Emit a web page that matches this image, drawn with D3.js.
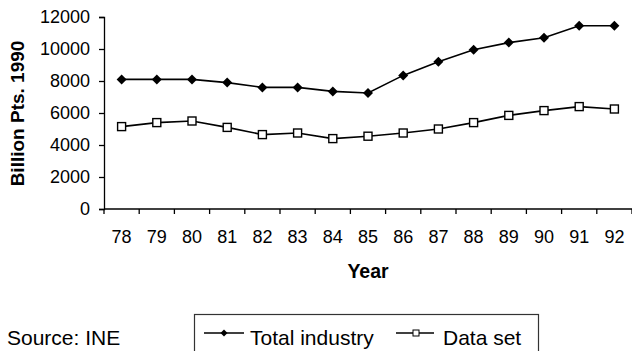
<!DOCTYPE html>
<html>
<head>
<meta charset="utf-8">
<script src="https://cdn.jsdelivr.net/npm/d3@7"></script>
<style>
  html, body { margin: 0; padding: 0; background: #fff; }
  svg { display: block; }
  text { font-family: "Liberation Sans", Arial, sans-serif; fill: #000; }
</style>
</head>
<body>
<svg id="chart" width="632" height="351"></svg>
<script>
const years = ["78","79","80","81","82","83","84","85","86","87","88","89","90","91","92"];
const totalIndustry = [8100, 8100, 8100, 7900, 7600, 7600, 7350, 7250, 8350, 9200, 9950, 10400, 10700, 11450, 11450];
const dataSet = [5150, 5400, 5500, 5100, 4650, 4750, 4400, 4550, 4750, 5000, 5400, 5850, 6150, 6400, 6250];
const yTicks = [0, 2000, 4000, 6000, 8000, 10000, 12000];
const seriesNames = ["Total industry", "Data set"];

const svg = d3.select("#chart");
const plotLeft = 104, plotRight = 632, plotTop = 17, plotBottom = 209;

const x = d3.scaleBand().domain(years).range([plotLeft, plotRight]);
const y = d3.scaleLinear().domain([0, 12000]).range([plotBottom, plotTop]);

// Y axis
const yAxis = svg.append("g").attr("transform", `translate(${plotLeft},0)`)
  .call(d3.axisLeft(y).tickValues(yTicks).tickSize(5).tickPadding(9).tickFormat(d3.format("d")));
yAxis.select(".domain").attr("stroke", "#000").attr("stroke-width", 1.3);
yAxis.selectAll(".tick line").attr("stroke", "#000").attr("stroke-width", 1.3);
yAxis.selectAll("text").attr("font-size", 18).attr("font-family", "Liberation Sans, Arial, sans-serif");

// X axis: ticks at band boundaries
const xg = svg.append("g");
xg.append("line").attr("x1", plotLeft).attr("x2", plotRight).attr("y1", plotBottom).attr("y2", plotBottom)
  .attr("stroke", "#000").attr("stroke-width", 1.3);
const boundaries = years.map(d => x(d)).concat([x(years[years.length - 1]) + x.bandwidth()]);
xg.selectAll("line.tk").data(boundaries).join("line").attr("class", "tk")
  .attr("x1", d => d).attr("x2", d => d).attr("y1", plotBottom).attr("y2", plotBottom + 5)
  .attr("stroke", "#000").attr("stroke-width", 1.3);
xg.selectAll("text").data(years).join("text")
  .attr("x", d => x(d) + x.bandwidth() / 2).attr("y", 243)
  .attr("text-anchor", "middle").attr("font-size", 18).text(d => d);

// Axis titles
svg.append("text").attr("transform", "translate(23.5,113.5) rotate(-90)")
  .attr("text-anchor", "middle").attr("font-size", 19).attr("font-weight", "bold")
  .text("Billion Pts. 1990");
svg.append("text").attr("x", 368).attr("y", 278).attr("text-anchor", "middle")
  .attr("font-size", 19.5).attr("font-weight", "bold").text("Year");

// Lines
const cx = d => x(d) + x.bandwidth() / 2;
const line = d3.line().x((d, i) => cx(years[i])).y(d => y(d));

svg.append("path").datum(totalIndustry).attr("d", line)
  .attr("fill", "none").attr("stroke", "#000").attr("stroke-width", 1.6);
svg.append("path").datum(dataSet).attr("d", line)
  .attr("fill", "none").attr("stroke", "#000").attr("stroke-width", 1.6);

const diamond = s => `M0,${-s}L${s},0L0,${s}L${-s},0Z`;
svg.selectAll("path.dia").data(totalIndustry).join("path").attr("class", "dia")
  .attr("transform", (d, i) => `translate(${cx(years[i])},${y(d)})`)
  .attr("d", diamond(5)).attr("fill", "#000");
svg.selectAll("rect.sq").data(dataSet).join("rect").attr("class", "sq")
  .attr("x", (d, i) => cx(years[i]) - 4).attr("y", d => y(d) - 4)
  .attr("width", 8).attr("height", 8)
  .attr("fill", "#fff").attr("stroke", "#000").attr("stroke-width", 1.4);

// Source
svg.append("text").attr("x", 7).attr("y", 345).attr("font-size", 21).text("Source: INE");

// Legend
const lg = svg.append("g");
lg.append("rect").attr("x", 194.5).attr("y", 314.5).attr("width", 344).attr("height", 50)
  .attr("fill", "#fff").attr("stroke", "#333").attr("stroke-width", 1.2);
const ly = 333;
lg.append("line").attr("x1", 204).attr("x2", 244).attr("y1", ly).attr("y2", ly)
  .attr("stroke", "#000").attr("stroke-width", 1.4);
lg.append("path").attr("transform", `translate(224,${ly})`).attr("d", diamond(3.5)).attr("fill", "#000");
lg.append("text").attr("x", 250).attr("y", 345).attr("font-size", 21).text(seriesNames[0]);
lg.append("line").attr("x1", 396).attr("x2", 434).attr("y1", ly).attr("y2", ly)
  .attr("stroke", "#000").attr("stroke-width", 1.4);
lg.append("rect").attr("x", 413).attr("y", ly - 3).attr("width", 6).attr("height", 6)
  .attr("fill", "#fff").attr("stroke", "#000").attr("stroke-width", 1);
lg.append("text").attr("x", 443).attr("y", 345).attr("font-size", 21).text(seriesNames[1]);
</script>
</body>
</html>
